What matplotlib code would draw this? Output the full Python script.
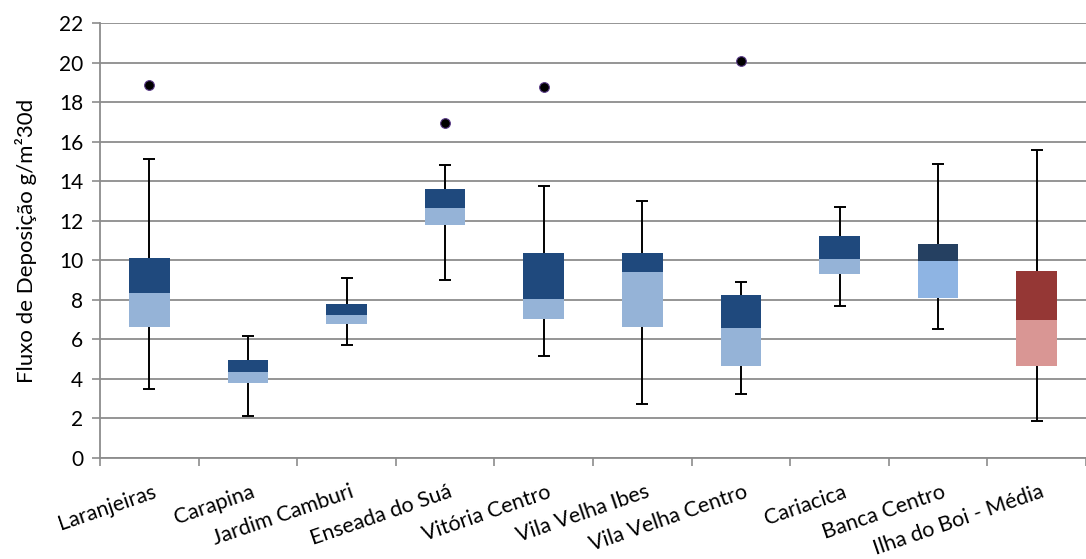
import matplotlib
matplotlib.use('Agg')
import matplotlib.pyplot as plt
import numpy as np

plt.rcParams['font.family'] = ['Lato', 'DejaVu Sans']

# valores
estacoes = ['Laranjeiras', 'Carapina', 'Jardim Camburi', 'Enseada do Suá', 'Vitória Centro',
            'Vila Velha Ibes', 'Vila Velha Centro', 'Cariacica', 'Banca Centro', 'Ilha do Boi - Média']
minimo = [3.48, 2.12, 5.72, 9.0, 5.18, 2.75, 3.22, 7.69, 6.51, 1.89]
q1 = [6.62, 3.81, 6.79, 11.8, 7.02, 6.61, 4.67, 9.29, 8.11, 4.67]
mediana = [8.35, 4.37, 7.25, 12.65, 8.03, 9.42, 6.56, 10.07, 9.98, 6.98]
q3 = [10.13, 4.96, 7.79, 13.58, 10.35, 10.35, 8.24, 11.21, 10.82, 9.46]
maximo = [15.12, 6.19, 9.1, 14.8, 13.77, 12.98, 8.92, 12.68, 14.87, 15.58]
outlier_pos = [0, 3, 4, 6]
outlier_val = [18.88, 16.95, 18.77, 20.08]

cor_baixo = ['#95B3D7'] * 8 + ['#8EB4E3', '#D99694']
cor_cima = ['#1F497D'] * 8 + ['#254061', '#953735']

fig = plt.figure(figsize=(10.86, 5.59), dpi=100)
ax = fig.add_axes([0.0921, 0.1807, 0.9079, 0.7782])

x = np.arange(len(estacoes))
minimo = np.array(minimo)
q1 = np.array(q1)
mediana = np.array(mediana)
q3 = np.array(q3)
maximo = np.array(maximo)

# bigodes
ax.errorbar(x, mediana, yerr=[mediana - minimo, maximo - mediana], fmt='none',
            ecolor='black', elinewidth=1.4, capsize=4.5, capthick=1.4, zorder=2)
# caixas
ax.bar(x, mediana - q1, bottom=q1, width=0.41, color=cor_baixo, zorder=3)
ax.bar(x, q3 - mediana, bottom=mediana, width=0.41, color=cor_cima, zorder=3)
# outliers
ax.plot(x[outlier_pos], outlier_val, 'o', color='black', markeredgecolor='#5B3C88',
        markeredgewidth=0.8, markersize=7, linestyle='none', zorder=4)

ax.set_xlim(-0.5, len(estacoes) - 0.5)
ax.set_ylim(0, 22)
ax.set_yticks(np.arange(0, 23, 2))
ax.grid(axis='y', color='#8C8C8C', linewidth=1.3, zorder=0)
ax.set_axisbelow(True)

ax.set_xticks(np.arange(-0.5, len(estacoes), 1))
ax.set_xticklabels([])
ax.set_xticks(x + 0.03, minor=True)
ax.set_xticklabels(estacoes, minor=True, rotation=19, ha='right', va='top',
                   rotation_mode='anchor', fontsize=15.5)
ax.tick_params(axis='x', which='major', length=6, color='#8C8C8C', width=1.2)
ax.tick_params(axis='x', which='minor', length=0, pad=17)
ax.tick_params(axis='y', length=6, color='#8C8C8C', width=1.2, labelsize=15, pad=6)

for s in ['top', 'right']:
    ax.spines[s].set_visible(False)
for s in ['left', 'bottom']:
    ax.spines[s].set_color('#8C8C8C')
    ax.spines[s].set_linewidth(1.3)

ax.set_ylabel('Fluxo de Deposição g/m²30d', fontsize=16, labelpad=16)

fig.savefig('out.png', dpi=100)
